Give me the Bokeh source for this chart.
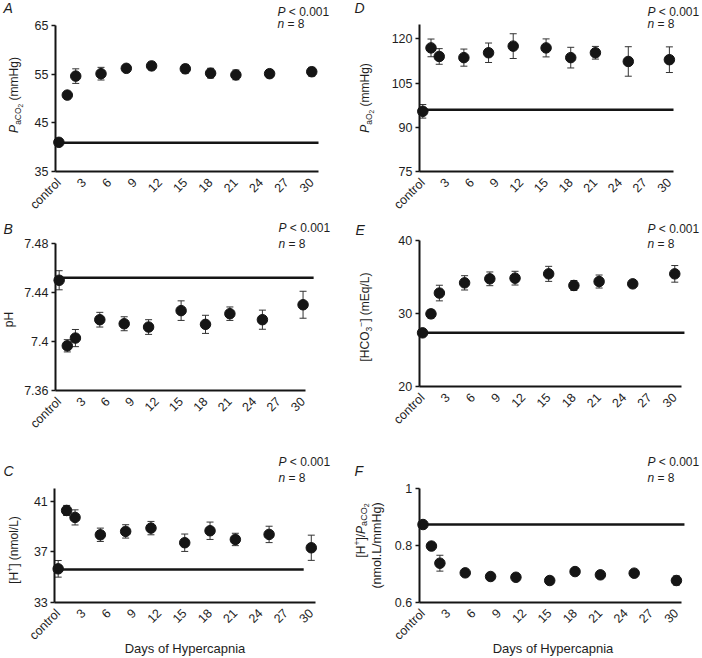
from math import pi
from bokeh.plotting import figure
from bokeh.models import ColumnDataSource, Whisker, TeeHead, Label, FixedTicker, Range1d
from bokeh.layouts import column, row
from bokeh.embed import file_html
from bokeh.resources import INLINE

# ---------------- data ----------------
days = [0, 1, 2, 5, 8, 11, 15, 18, 21, 25, 30]
x_ticks = [0, 3, 6, 9, 12, 15, 18, 21, 24, 27, 30]
x_tick_labels = ["control", "3", "6", "9", "12", "15", "18", "21", "24", "27", "30"]
x_title = "Days of Hypercapnia"

paco2 = [41.0, 50.7, 54.6, 55.1, 56.2, 56.7, 56.1, 55.2, 54.85, 55.1, 55.5]
paco2_err = [0.7, 0.6, 1.5, 1.3, 0.5, 0.8, 0.9, 1.0, 1.0, 0.8, 0.9]
paco2_ctrl = 40.9
paco2_ticks = [35, 45, 55, 65]
paco2_tick_labels = ["35", "45", "55", "65"]

ph = [7.450, 7.3965, 7.4028, 7.4178, 7.4145, 7.4118, 7.4252, 7.414, 7.4227, 7.4178, 7.430]
ph_err = [0.0078, 0.005, 0.007, 0.006, 0.0057, 0.006, 0.008, 0.0074, 0.0055, 0.0078, 0.011]
ph_ctrl = 7.452
ph_ticks = [7.36, 7.40, 7.44, 7.48]
ph_tick_labels = ["7.36", "7.4", "7.44", "7.48"]

h_ion = [35.65, 40.28, 39.73, 38.35, 38.62, 38.88, 37.72, 38.67, 37.98, 38.38, 37.32]
h_ion_err = [0.66, 0.4, 0.6, 0.53, 0.53, 0.53, 0.69, 0.69, 0.49, 0.65, 1.0]
h_ion_ctrl = 35.6
h_ion_ticks = [33, 37, 41]
h_ion_tick_labels = ["33", "37", "41"]
h_ion_top = 42

pao2 = [95.4, 116.9, 114.0, 113.6, 115.25, 117.5, 116.9, 113.6, 115.25, 112.3, 112.9]
pao2_err = [2.3, 3.0, 2.65, 2.9, 3.3, 4.2, 3.05, 3.5, 2.15, 5.0, 4.35]
pao2_ctrl = 95.9
pao2_ticks = [75, 90, 105, 120]
pao2_tick_labels = ["75", "90", "105", "120"]
pao2_top = 125

hco3 = [27.35, 29.95, 32.8, 34.2, 34.75, 34.84, 35.43, 33.84, 34.38, 34.06, 35.43]
hco3_err = [0.4, 0.57, 1.07, 0.98, 0.94, 0.94, 1.03, 0.68, 0.89, 0.4, 1.14]
hco3_ctrl = 27.35
hco3_ticks = [20, 30, 40]
hco3_tick_labels = ["20", "30", "40"]

ratio = [0.874, 0.798, 0.7376, 0.7035, 0.6906, 0.688, 0.6765, 0.708, 0.6965, 0.7024, 0.6765]
ratio_err = [0.01, 0.012, 0.028, 0.012, 0.008, 0.012, 0.014, 0.008, 0.012, 0.008, 0.016]
ratio_ctrl = 0.874
ratio_ticks = [0.6, 0.8, 1.0]
ratio_tick_labels = ["0.6", "0.8", "1"]

p_text = ("P", "< 0.001")
n_text = ("n", "= 8")

# ---------------- styling helpers ----------------
FONT = "Liberation Sans"
INK = "#151515"
TXT = "#1e1e1e"
BASE_FIX = 0.33  # rendered baseline sits this many em below the requested point

W = {" ": 278, "(": 333, ")": 333, "[": 278, "]": 278, "/": 278, ".": 278, "+": 584,
     "<": 584, "=": 584, "\u2212": 584, "P": 667, "C": 722, "O": 778, "H": 722, "E": 667,
     "L": 556, "q": 556, "m": 833, "g": 556, "n": 556, "o": 556, "l": 222, "a": 556,
     "p": 556}


def tw(s, size):
    return sum(W.get(c, 556) for c in s) * size / 1000.0


def put(p, text, sx, sy, size, style="normal", angle=0.0, align="left"):
    off = BASE_FIX * size
    if angle:
        sx -= off
    else:
        sy += off
    p.add_layout(Label(x=sx, y=sy, x_units="screen", y_units="screen", text=text,
                       angle=angle, text_font=FONT, text_font_size=f"{size}px",
                       text_font_style=style, text_align=align,
                       text_baseline="alphabetic", text_color=TXT))


def rich(p, pieces, x0, y0, rotated=False):
    pos = 0.0
    for text, size, style, shift in pieces:
        stripped = text.lstrip(" ")
        lead = tw(text[: len(text) - len(stripped)], size)
        if rotated:
            put(p, stripped, x0 - shift, y0 + pos + lead, size, style, pi / 2)
        else:
            put(p, stripped, x0 + pos + lead, y0 + shift, size, style)
        pos += tw(text, size)
    return pos


def total_w(pieces):
    return sum(tw(t, s) for t, s, _, _ in pieces)


M, SB, SS = 12, 8.5, 6.5  # main, subscript, sub-subscript sizes


def make_panel(vals, errs, ctrl, yticks, ylabels, ytop, fig, data_box, xdata, line_end,
               letter, letter_xy, ptext_xy, ylab_lines, xtitle_xy=None):
    fx0, fy0, fx1, fy1 = fig           # figure rectangle on the page
    pl, pt, pr, pb = data_box          # where the axes sit on the page
    x0, x1 = xdata                     # x values at the y axis and at the x axis end
    y0, y1 = yticks[0], ytop
    xs = (x1 - x0) / (pr - pl)
    ys = (y1 - y0) / (pb - pt)
    xr = Range1d(x0 - (pl - fx0) * xs, x1 + (fx1 - pr) * xs)
    yr = Range1d(y0 - (fy1 - pb) * ys, y1 + (pt - fy0) * ys)

    p = figure(width=fx1 - fx0, height=fy1 - fy0, x_range=xr, y_range=yr,
               output_backend="svg", toolbar_location=None, title=None,
               min_border_left=0, min_border_right=0, min_border_top=0, min_border_bottom=0)
    p.outline_line_color = None
    p.xgrid.grid_line_color = None
    p.ygrid.grid_line_color = None
    p.background_fill_color = "white"
    p.border_fill_color = "white"

    xa = p.xaxis[0]
    xa.fixed_location = y0
    xa.bounds = (x0, x1)
    xa.ticker = FixedTicker(ticks=x_ticks)
    xa.major_label_overrides = {t: l for t, l in zip(x_ticks, x_tick_labels)}
    xa.major_label_orientation = pi / 4
    xa.major_tick_out = 0
    xa.major_tick_in = 0
    xa.major_tick_line_color = None
    xa.minor_tick_line_color = None
    xa.major_label_standoff = 9
    xa.axis_line_width = 2
    xa.axis_line_color = INK
    xa.major_label_text_font = FONT
    xa.major_label_text_font_size = "12.5px"
    xa.major_label_text_color = TXT

    ya = p.yaxis[0]
    ya.fixed_location = x0
    ya.bounds = (y0, y1)
    ya.ticker = FixedTicker(ticks=yticks)
    ya.major_label_overrides = {t: l for t, l in zip(yticks, ylabels)}
    ya.major_tick_out = 4
    ya.major_tick_in = 0
    ya.major_tick_line_width = 1.5
    ya.major_tick_line_color = INK
    ya.minor_tick_line_color = None
    ya.major_label_standoff = 3
    ya.axis_line_width = 2
    ya.axis_line_color = INK
    ya.major_label_text_font = FONT
    ya.major_label_text_font_size = "12.5px"
    ya.major_label_text_color = TXT

    src = ColumnDataSource(dict(x=days, y=vals,
                                lo=[v - e for v, e in zip(vals, errs)],
                                hi=[v + e for v, e in zip(vals, errs)]))
    p.add_layout(Whisker(source=src, base="x", lower="lo", upper="hi",
                         line_color="#333333", line_width=1,
                         upper_head=TeeHead(size=7, line_color="#333333", line_width=1),
                         lower_head=TeeHead(size=7, line_color="#333333", line_width=1)))
    p.segment(x0=[days[0]], y0=[ctrl], x1=[line_end], y1=[ctrl], line_width=2.5,
              line_color=INK)
    p.scatter(x="x", y="y", source=src, size=10.5, fill_color=INK, line_color=INK)

    def sx(X):
        return X - fx0

    def sy(Y):
        return fy1 - Y

    lx, ly = letter_xy
    put(p, letter, sx(lx), sy(ly), 14, "italic")
    px, py, ny = ptext_xy
    rich(p, [(p_text[0], 12, "italic", 0), (" " + p_text[1], 12, "normal", 0)], sx(px), sy(py))
    rich(p, [(n_text[0], 12, "italic", 0), (" " + n_text[1], 12, "normal", 0)], sx(px), sy(ny))

    for base_x, center_y, pieces in ylab_lines:
        tot = total_w(pieces)
        rich(p, pieces, sx(base_x), sy(center_y) - tot / 2, rotated=True)

    if xtitle_xy is not None:
        tx, ty = xtitle_xy
        put(p, x_title, sx(tx), sy(ty), 13, "normal", 0.0, "center")
    return p


# figure rectangles on the page
L0, L1, R1_ = 0, 351, 701
ROWS = [(0, 215), (215, 432), (432, 657)]

lab_A = [("P", M, "italic", 0), ("aCO", SB, "normal", -3), ("2", SS, "normal", -5),
         (" (mmHg)", M, "normal", 0)]
lab_D = [("P", M, "italic", 0), ("aO", SB, "normal", -3), ("2", SS, "normal", -5),
         (" (mmHg)", M, "normal", 0)]
lab_B = [("pH", M, "normal", 0)]
lab_E = [("[HCO", M, "normal", 0), ("3", SB, "normal", -3), ("\u2212", SB, "normal", 5),
         ("] (mEq/L)", M, "normal", 0)]
lab_C = [("[H", M, "normal", 0), ("+", SB, "normal", 5), ("] (nmol/L)", M, "normal", 0)]
lab_F1 = [("[H", 12, "normal", 0), ("+", 8.5, "normal", 5), ("]/", 12, "normal", 0),
          ("P", 12, "italic", 0), ("aCO", 9, "normal", -2.5), ("2", 7, "normal", -4.5)]
lab_F2 = [("(nmol.L/mmHg)", 12.5, "normal", 0)]

pA = make_panel(paco2, paco2_err, paco2_ctrl, paco2_ticks, paco2_tick_labels, paco2_ticks[-1],
                (L0, ROWS[0][0], L1, ROWS[0][1]), (55, 25, 318, 171), (-0.4, 30.8), 30.8,
                "A", (3, 12), (277, 15, 27.5), [(17, 94.5, lab_A)])
pD = make_panel(pao2, pao2_err, pao2_ctrl, pao2_ticks, pao2_tick_labels, pao2_top,
                (L1, ROWS[0][0], R1_, ROWS[0][1]), (419, 23.5, 673, 171), (-0.4, 30.5), 30.5,
                "D", (354, 12), (647, 15, 27.5), [(368, 97.5, lab_D)])
pB = make_panel(ph, ph_err, ph_ctrl, ph_ticks, ph_tick_labels, ph_ticks[-1],
                (L0, ROWS[1][0], L1, ROWS[1][1]), (55, 243, 305, 390), (-0.45, 30.3), 31.3,
                "B", (3, 233), (278, 231.5, 247), [(12, 319, lab_B)])
pE = make_panel(hco3, hco3_err, hco3_ctrl, hco3_ticks, hco3_tick_labels, hco3_ticks[-1],
                (L1, ROWS[1][0], R1_, ROWS[1][1]), (418.7, 240, 681, 386), (-0.4, 30.8), 31.15,
                "E", (355, 234), (647, 232.5, 247), [(368, 316.5, lab_E)])
pC = make_panel(h_ion, h_ion_err, h_ion_ctrl, h_ion_ticks, h_ion_tick_labels, h_ion_top,
                (L0, ROWS[2][0], L1, ROWS[2][1]), (54.3, 488.3, 315, 601.7), (-0.4, 30.5), 29.1,
                "C", (3, 475), (278, 465.5, 481.5), [(17, 549.5, lab_C)], (184.5, 652))
pF = make_panel(ratio, ratio_err, ratio_ctrl, ratio_ticks, ratio_tick_labels, ratio_ticks[-1],
                (L1, ROWS[2][0], R1_, ROWS[2][1]), (418.7, 488.3, 681, 601.7), (-0.45, 30.6), 30.95,
                "F", (354, 475), (647, 465.5, 481.5),
                [(364, 530, lab_F1), (381, 545, lab_F2)], (552.5, 652))

layout = column(row(pA, pD), row(pB, pE), row(pC, pF))

open("out.html", "w").write(file_html(layout, INLINE))
